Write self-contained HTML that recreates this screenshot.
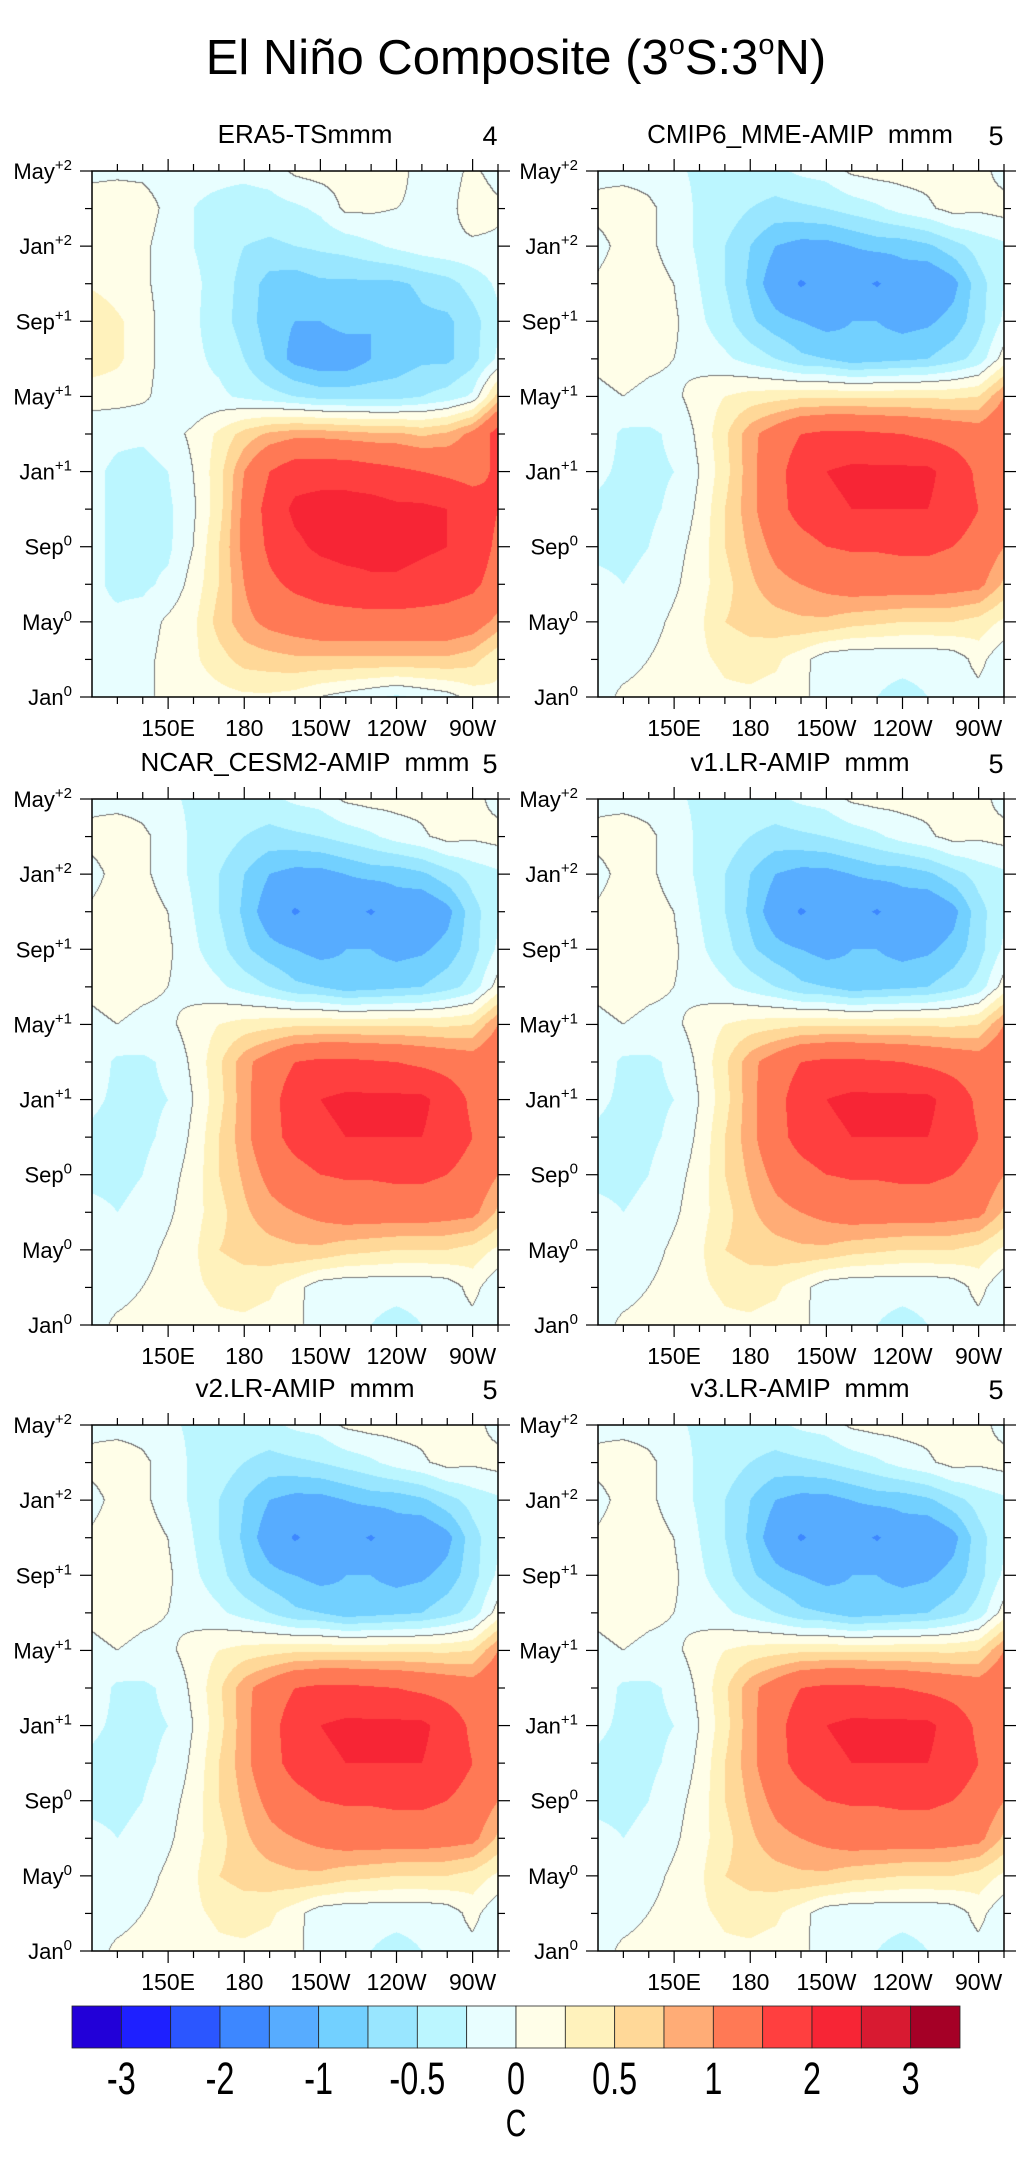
<!DOCTYPE html>
<html><head><meta charset="utf-8"><title>El Niño Composite</title>
<style>
html,body{margin:0;padding:0;background:#fff;}
#wrap{position:relative;width:1032px;height:2157px;overflow:hidden;font-family:"Liberation Sans",sans-serif;}
canvas{position:absolute;}
#overlay{position:absolute;left:0;top:0;}
</style></head>
<body>
<div id="wrap">
<canvas id="c0" width="406" height="526" style="left:92px;top:171px"></canvas>
<canvas id="c1" width="406" height="526" style="left:598px;top:171px"></canvas>
<canvas id="c2" width="406" height="526" style="left:92px;top:799px"></canvas>
<canvas id="c3" width="406" height="526" style="left:598px;top:799px"></canvas>
<canvas id="c4" width="406" height="526" style="left:92px;top:1425px"></canvas>
<canvas id="c5" width="406" height="526" style="left:598px;top:1425px"></canvas>
<svg id="overlay" width="1032" height="2157" xmlns="http://www.w3.org/2000/svg">
<text x="516" y="74" text-anchor="middle" font-size="49" font-family="Liberation Sans, sans-serif">El Niño Composite (3<tspan font-size="29" dy="-20">o</tspan><tspan dy="20">S:3</tspan><tspan font-size="29" dy="-20">o</tspan><tspan dy="20">N)</tspan></text>
</svg>
</div>
<script>
// ---- data ----
const lonGrid = [120,130,140,150,160,170,180,190,200,210,220,230,240,250,260,270,280];
const monthGrid = [0,2,4,6,8,10,12,14,16,18,20,22,24,26,28];
const levels = [-3,-2.5,-2,-1.5,-1,-0.75,-0.5,-0.25,0,0.25,0.5,0.75,1,1.5,2,2.5,3];
const levelLabels = ["-3","-2","-1","-0.5","0","0.5","1","2","3"];
const colors = ["#2200d8","#1e20ff","#2b56ff","#3d87ff","#57acff","#72d0ff","#99e6ff","#bbf6ff","#e8feff","#fffee8","#fff2bc","#ffd898","#ffac76","#ff7955","#ff3f3f","#f72535","#d81a31","#a50026"];
const lonTicks = [150,180,210,240,270];
const lonTickLabels = ["150E","180","150W","120W","90W"];
const monthTicks = [0,4,8,12,16,20,24,28];
const monthTickNames = ["Jan","May","Sep","Jan","May","Sep","Jan","May"];
const monthTickSup = ["0","0","0","+1","+1","+1","+2","+2"];
const panelTitles = ["ERA5-TSmmm","CMIP6_MME-AMIP  mmm","NCAR_CESM2-AMIP  mmm","v1.LR-AMIP  mmm","v2.LR-AMIP  mmm","v3.LR-AMIP  mmm"];
const panelCounts = ["4","5","5","5","5","5"];

const eraValues = [
[-0.1,-0.1,-0.05,0.05,0.1,0.15,0.2,0.2,0.15,0.0,-0.1,-0.2,-0.3,-0.2,-0.1,0.1,0.2],
[-0.1,-0.15,-0.1,0.1,0.2,0.4,0.6,0.65,0.7,0.7,0.7,0.7,0.7,0.7,0.7,0.6,0.3],
[-0.2,-0.2,-0.15,0.05,0.2,0.6,0.9,1.1,1.2,1.3,1.3,1.3,1.3,1.3,1.3,1.2,0.9],
[-0.2,-0.3,-0.3,-0.2,0.1,0.5,1.0,1.4,1.6,1.7,1.8,1.9,1.9,1.8,1.7,1.6,1.3],
[-0.2,-0.3,-0.3,-0.3,0.0,0.5,1.1,1.6,1.9,2.1,2.2,2.2,2.2,2.1,2.0,1.8,1.4],
[-0.2,-0.3,-0.35,-0.3,-0.05,0.4,1.1,1.7,2.1,2.2,2.2,2.2,2.1,2.1,2.0,1.8,1.5],
[-0.2,-0.3,-0.35,-0.25,0.0,0.4,1.0,1.5,1.8,1.8,1.8,1.7,1.6,1.5,1.4,1.3,1.6],
[-0.15,-0.2,-0.2,-0.1,0.05,0.3,0.6,0.8,0.9,0.9,0.85,0.8,0.8,0.7,0.8,1.1,1.7],
[0.1,0.1,0.05,-0.1,-0.2,-0.2,-0.3,-0.4,-0.5,-0.6,-0.6,-0.6,-0.6,-0.5,-0.4,-0.2,0.6],
[0.4,0.3,0.1,-0.1,-0.2,-0.3,-0.5,-0.8,-1.1,-1.2,-1.2,-1.0,-0.9,-0.8,-0.8,-0.6,-0.2],
[0.5,0.3,0.1,-0.1,-0.2,-0.4,-0.6,-0.9,-1.0,-1.0,-0.9,-1.0,-0.95,-0.8,-0.8,-0.6,-0.3],
[0.2,0.1,0.05,-0.1,-0.2,-0.35,-0.6,-0.85,-0.9,-0.8,-0.8,-0.8,-0.8,-0.7,-0.6,-0.4,-0.2],
[0.1,0.15,0.05,-0.1,-0.25,-0.35,-0.5,-0.55,-0.5,-0.45,-0.4,-0.3,-0.2,-0.1,-0.05,-0.05,-0.05],
[0.1,0.15,0.1,-0.05,-0.25,-0.3,-0.35,-0.35,-0.3,-0.2,0.05,0.05,0.0,-0.05,-0.1,0.15,0.05],
[-0.05,-0.05,-0.05,-0.1,-0.2,-0.2,-0.2,-0.15,0.05,0.1,0.1,0.1,0.1,-0.1,-0.1,0.05,-0.1]
];
const mmeValues = [
[-0.1,0.05,0.1,0.1,0.1,0.2,0.2,0.15,0.1,-0.2,-0.2,-0.25,-0.3,-0.25,-0.2,-0.1,-0.2],
[-0.1,-0.1,0.0,0.1,0.2,0.3,0.35,0.3,0.1,-0.15,-0.2,-0.2,-0.2,-0.2,-0.15,0.1,-0.2],
[-0.15,-0.2,-0.1,0.05,0.2,0.5,0.6,0.65,0.7,0.7,0.6,0.55,0.5,0.5,0.5,0.4,0.2],
[-0.2,-0.25,-0.2,-0.05,0.15,0.4,0.7,0.9,1.0,1.1,1.2,1.2,1.2,1.2,1.15,1.1,0.7],
[-0.3,-0.3,-0.25,-0.1,0.1,0.5,0.8,1.1,1.3,1.5,1.55,1.55,1.6,1.6,1.5,1.3,1.0],
[-0.3,-0.35,-0.3,-0.2,0.05,0.5,0.9,1.3,1.7,1.9,2.0,2.0,2.0,2.0,1.8,1.5,1.1],
[-0.2,-0.3,-0.3,-0.25,0.0,0.4,0.9,1.3,1.8,2.0,2.1,2.1,2.1,2.1,1.8,1.4,1.1],
[-0.1,-0.3,-0.3,-0.2,0.05,0.45,0.9,1.2,1.5,1.6,1.6,1.55,1.5,1.4,1.3,1.2,1.4],
[-0.05,0.0,-0.05,-0.05,0.1,0.25,0.35,0.4,0.45,0.45,0.45,0.45,0.45,0.45,0.45,0.5,1.0],
[0.05,0.1,0.05,0.0,-0.1,-0.2,-0.35,-0.5,-0.7,-0.75,-0.9,-0.85,-0.8,-0.75,-0.6,-0.4,0.1],
[0.1,0.2,0.1,0.05,-0.2,-0.4,-0.7,-0.9,-1.0,-1.1,-1.0,-1.0,-1.1,-1.05,-0.9,-0.6,-0.2],
[0.05,0.15,0.1,0.0,-0.25,-0.5,-0.8,-1.2,-1.55,-1.3,-1.3,-1.55,-1.2,-1.3,-1.1,-0.6,-0.3],
[-0.1,0.1,0.05,-0.1,-0.3,-0.5,-0.75,-1.0,-1.1,-1.1,-1.0,-0.9,-0.9,-0.8,-0.6,-0.4,-0.3],
[0.1,0.15,0.05,-0.1,-0.3,-0.35,-0.5,-0.6,-0.55,-0.5,-0.4,-0.3,-0.15,-0.05,0.1,0.05,0.1],
[-0.1,-0.1,-0.1,-0.2,-0.3,-0.3,-0.3,-0.3,-0.2,-0.15,0.05,0.1,0.1,0.1,0.2,0.1,-0.1]
];
const cesmValues = [
[-0.1,0.05,0.1,0.1,0.1,0.2,0.2,0.15,0.1,-0.2,-0.2,-0.25,-0.3,-0.25,-0.2,-0.1,-0.2],
[-0.1,-0.1,0.0,0.1,0.2,0.3,0.35,0.3,0.1,-0.15,-0.2,-0.2,-0.2,-0.2,-0.15,0.1,-0.2],
[-0.15,-0.2,-0.1,0.05,0.2,0.5,0.6,0.65,0.7,0.7,0.6,0.55,0.5,0.5,0.5,0.4,0.2],
[-0.2,-0.25,-0.2,-0.05,0.15,0.4,0.7,0.9,1.0,1.1,1.2,1.2,1.2,1.2,1.15,1.1,0.7],
[-0.3,-0.3,-0.25,-0.1,0.1,0.5,0.8,1.1,1.3,1.5,1.55,1.55,1.6,1.6,1.5,1.3,1.0],
[-0.3,-0.35,-0.3,-0.2,0.05,0.5,0.9,1.3,1.7,1.9,2.0,2.0,2.0,2.0,1.8,1.5,1.1],
[-0.2,-0.3,-0.3,-0.25,0.0,0.4,0.9,1.3,1.8,2.0,2.1,2.1,2.1,2.1,1.8,1.4,1.1],
[-0.1,-0.3,-0.3,-0.2,0.05,0.45,0.9,1.2,1.5,1.6,1.6,1.55,1.5,1.4,1.3,1.2,1.4],
[-0.05,0.0,-0.05,-0.05,0.1,0.25,0.35,0.4,0.45,0.45,0.45,0.45,0.45,0.45,0.45,0.5,1.0],
[0.05,0.1,0.05,0.0,-0.1,-0.2,-0.35,-0.5,-0.7,-0.75,-0.9,-0.85,-0.8,-0.75,-0.6,-0.4,0.1],
[0.1,0.2,0.1,0.05,-0.2,-0.4,-0.7,-0.9,-1.0,-1.1,-1.0,-1.0,-1.1,-1.05,-0.9,-0.6,-0.2],
[0.05,0.15,0.1,0.0,-0.25,-0.5,-0.8,-1.2,-1.55,-1.3,-1.3,-1.55,-1.2,-1.3,-1.1,-0.6,-0.3],
[-0.1,0.1,0.05,-0.1,-0.3,-0.5,-0.75,-1.0,-1.1,-1.1,-1.0,-0.9,-0.9,-0.8,-0.6,-0.4,-0.3],
[0.1,0.15,0.05,-0.1,-0.3,-0.35,-0.5,-0.6,-0.55,-0.5,-0.4,-0.3,-0.15,-0.05,0.1,0.05,0.1],
[-0.1,-0.1,-0.1,-0.2,-0.3,-0.3,-0.3,-0.3,-0.2,-0.15,0.05,0.1,0.1,0.1,0.2,0.1,-0.1]
];
const v1Values = cesmValues.map(r => r.slice());
const v2Values = cesmValues.map(r => r.slice());
const v3Values = cesmValues.map(r => r.slice());
const panelFields = [eraValues, mmeValues, cesmValues, v1Values, v2Values, v3Values];

// ---- geometry ----
const panelW = 406, panelH = 526;
const panelX = [92, 598, 92, 598, 92, 598];
const panelY = [171, 171, 799, 799, 1425, 1425];
const lonMin = 120, lonMax = 280, monMin = 0, monMax = 28;
function xScale(lon){ return (lon - lonMin) / (lonMax - lonMin) * panelW; }
function yScale(m){ return panelH - (m - monMin) / (monMax - monMin) * panelH; }

function sample(vals, lon, mon){
  const fi = (lon - lonGrid[0]) / (lonGrid[1] - lonGrid[0]);
  const fj = (mon - monthGrid[0]) / (monthGrid[1] - monthGrid[0]);
  let i0 = Math.max(0, Math.min(lonGrid.length - 2, Math.floor(fi)));
  let j0 = Math.max(0, Math.min(monthGrid.length - 2, Math.floor(fj)));
  const tx = Math.max(0, Math.min(1, fi - i0)), ty = Math.max(0, Math.min(1, fj - j0));
  const a = vals[j0][i0], b = vals[j0][i0+1], c = vals[j0+1][i0], d = vals[j0+1][i0+1];
  return (a*(1-tx)+b*tx)*(1-ty) + (c*(1-tx)+d*tx)*ty;
}
function levelIndex(v){ let k = 0; while (k < levels.length && v >= levels[k]) k++; return k; }
function hexToRgb(h){ return [parseInt(h.substr(1,2),16),parseInt(h.substr(3,2),16),parseInt(h.substr(5,2),16)]; }
const rgb = colors.map(hexToRgb);

function drawField(canvas, vals){
  const ctx = canvas.getContext('2d');
  const W = canvas.width, H = canvas.height;
  const img = ctx.createImageData(W, H);
  const v = new Float32Array(W*H);
  for (let py = 0; py < H; py++){
    const mon = monMax - (py + 0.5) / H * (monMax - monMin);
    for (let px = 0; px < W; px++){
      const lon = lonMin + (px + 0.5) / W * (lonMax - lonMin);
      v[py*W+px] = sample(vals, lon, mon);
    }
  }
  for (let p = 0; p < W*H; p++){
    const c = rgb[levelIndex(v[p])];
    img.data[p*4] = c[0]; img.data[p*4+1] = c[1]; img.data[p*4+2] = c[2]; img.data[p*4+3] = 255;
  }
  for (let py = 0; py < H-1; py++){
    for (let px = 0; px < W-1; px++){
      const p = py*W+px;
      const s = v[p] >= 0;
      if (s !== (v[p+1] >= 0) || s !== (v[p+W] >= 0)){
        img.data[p*4] = 120; img.data[p*4+1] = 120; img.data[p*4+2] = 120;
      }
    }
  }
  ctx.putImageData(img, 0, 0);
}
for (let k = 0; k < 6; k++) drawField(document.getElementById('c' + k), panelFields[k]);

// ---- axes overlay ----
const svg = document.getElementById('overlay');
const NS = 'http://www.w3.org/2000/svg';
function mk(tag, attrs){ const e = document.createElementNS(NS, tag); for (const a in attrs) e.setAttribute(a, attrs[a]); svg.appendChild(e); return e; }

for (let k = 0; k < 6; k++){
  const X = panelX[k], Y = panelY[k];
  const frame = mk('rect', {x: X, y: Y, width: panelW, height: panelH, fill: 'none', stroke: '#000', 'stroke-width': 1.5});
  
  
  for (let lon = 130; lon <= 280; lon += 10){
    const major = lonTicks.indexOf(lon) >= 0;
    const L = major ? 12 : 7;
    const x = X + xScale(lon);
    const t1 = mk('line', {x1: x, x2: x, y1: Y, y2: Y - L, stroke: '#000', 'stroke-width': 1.2});
    
    
    const t2 = mk('line', {x1: x, x2: x, y1: Y + panelH, y2: Y + panelH + L, stroke: '#000', 'stroke-width': 1.2});
    
    
  }
  lonTicks.forEach((lon, i) => {
    const t = mk('text', {x: X + xScale(lon), y: Y + panelH + 39, 'text-anchor': 'middle', 'font-size': 23, 'font-family': 'Liberation Sans, sans-serif'});
    t.textContent = lonTickLabels[i];
    
    
  });
  for (let m = 0; m <= 28; m += 2){
    const major = m % 4 === 0;
    const L = major ? 12 : 7;
    const y = Y + yScale(m);
    const t1 = mk('line', {x1: X, x2: X - L, y1: y, y2: y, stroke: '#000', 'stroke-width': 1.2});
    
    
    const t2 = mk('line', {x1: X + panelW, x2: X + panelW + L, y1: y, y2: y, stroke: '#000', 'stroke-width': 1.2});
    
    
  }
  monthTicks.forEach((m, i) => {
    const t = mk('text', {x: X - 20, y: Y + yScale(m) + 8, 'text-anchor': 'end', 'font-size': 22, 'font-family': 'Liberation Sans, sans-serif'});
    const a = document.createElementNS(NS, 'tspan'); a.textContent = monthTickNames[i]; t.appendChild(a);
    const b = document.createElementNS(NS, 'tspan'); b.setAttribute('font-size', '15'); b.setAttribute('dy', '-9'); b.textContent = monthTickSup[i]; t.appendChild(b);
    
    
  });
  const cx = (k % 2 === 0) ? 305 : 800;
  const tt = mk('text', {x: cx, y: Y - 28, 'text-anchor': 'middle', 'font-size': 26, 'font-family': 'Liberation Sans, sans-serif'});
  tt.style.whiteSpace = 'pre';
  tt.textContent = panelTitles[k];
  
  
  const nc = mk('text', {x: X + panelW - 8, y: Y - 26, 'text-anchor': 'middle', 'font-size': 27, 'font-family': 'Liberation Sans, sans-serif'});
  nc.textContent = panelCounts[k];
  
  
}

// ---- colorbar ----
const cbX = 72, cbW = 888, cbY = 2006, cbH = 42;
const boxW = cbW / colors.length;
colors.forEach((c, i) => {
  const r = mk('rect', {x: cbX + i*boxW, y: cbY, width: boxW, height: cbH, fill: c, stroke: '#222', 'stroke-width': 0.8});
  
  
});
levelLabels.forEach((lab, i) => {
  const x = cbX + (1 + 2*i) * boxW;
  const t = mk('text', {x: 0, y: 0, 'text-anchor': 'middle', 'font-size': 45, 'font-family': 'Liberation Sans, sans-serif', transform: 'translate(' + x + ',2094) scale(0.72,1)'});
  t.textContent = lab;
  
  
});
const cu = mk('text', {x: 0, y: 0, 'text-anchor': 'middle', 'font-size': 38, 'font-family': 'Liberation Sans, sans-serif', transform: 'translate(516,2136) scale(0.75,1)'});
cu.textContent = 'C';


</script>
</body></html>
